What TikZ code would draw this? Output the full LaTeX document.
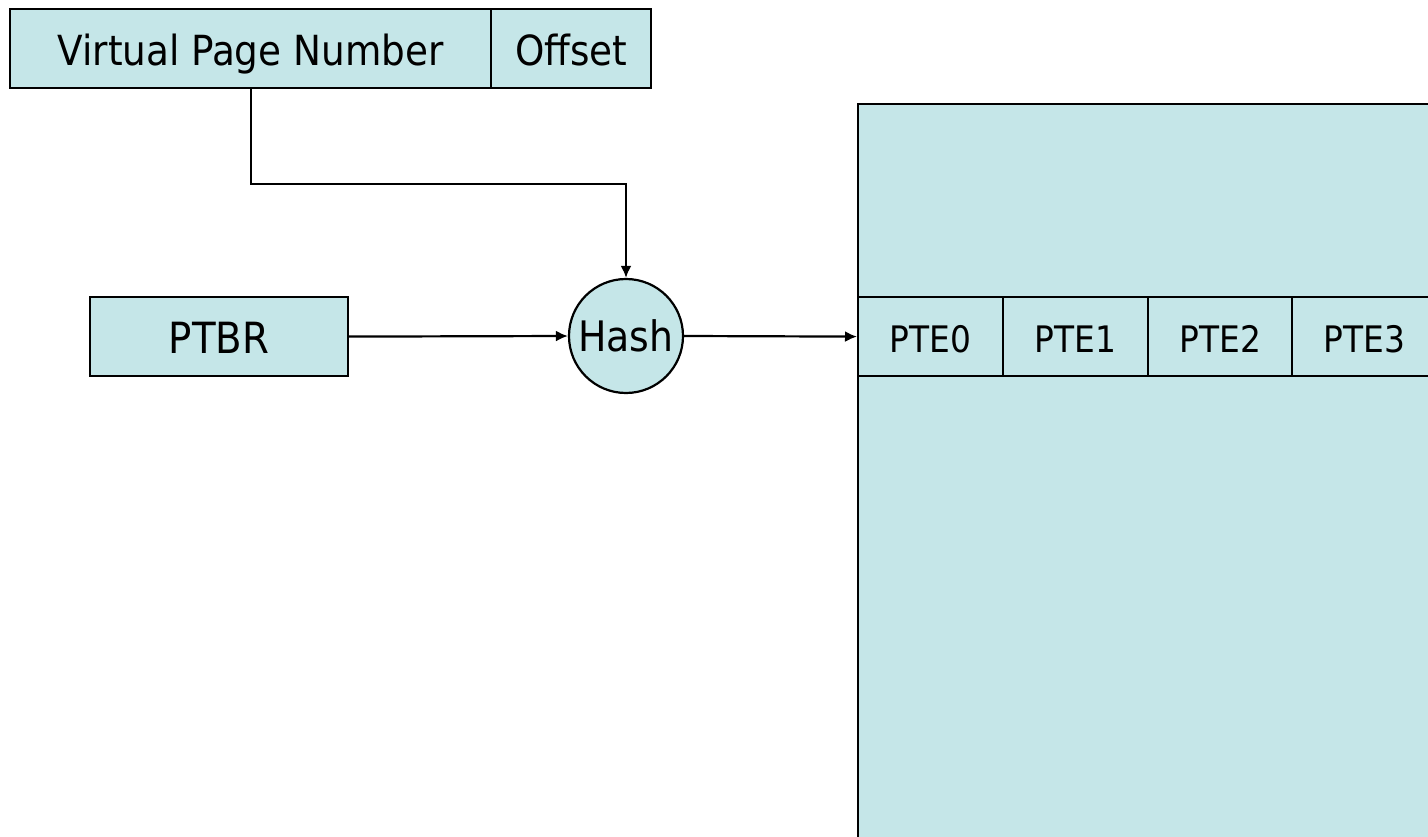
\documentclass[tikz,border=0pt]{standalone}
\usepackage{fontspec}
\setmainfont{DejaVu Sans Condensed}
\usetikzlibrary{arrows.meta}
\definecolor{cellfill}{RGB}{197,230,232}
\begin{document}
\begin{tikzpicture}[x=1pt,y=-1pt,
  box/.style={draw=black, fill=cellfill, line width=2.2pt, inner sep=0pt,
    minimum height=79pt, anchor=north west, text height=41pt, text depth=8pt,
    font=\fontsize{41.5}{48}\selectfont},
  ptecell/.style={box, minimum width=145pt, text height=38pt, text depth=7pt,
    font=\fontsize{36.5}{42}\selectfont},
  hashnode/.style={circle, draw=black, fill=cellfill, line width=2.2pt, inner sep=0pt,
    minimum size=114pt, font=\fontsize{42}{50}\selectfont},
  link/.style={line width=2.2pt, -{Latex[length=12pt,width=11pt]}}]
\useasboundingbox (0,0) rectangle (1428,837);
\clip (0,0) rectangle (1428,837);

% address fields
\node[box, minimum width=481pt] (vpn) at (9,8) {Virtual Page Number};
\node[box, minimum width=160pt] (off) at (490,8) {Offset};

% page table base register and hash unit
\node[box, minimum width=258pt, font=\fontsize{43}{50}\selectfont] (ptbr) at (89,296) {PTBR};
\node[hashnode] (hash) at (626,336) {Hash};

% hashed page table
\node[box, minimum width=640pt, minimum height=760pt] (table) at (857,103) {};
\node[ptecell] (pte0) at (857,296) {PTE0};
\node[ptecell] (pte1) at (1002,296) {PTE1};
\node[ptecell] (pte2) at (1147,296) {PTE2};
\node[ptecell] (pte3) at (1291,296) {PTE3};

% connectors
\draw[link] (vpn.south) -- ++(0,95) -| (hash.north);
\draw[link] (ptbr.east) -- (hash.west);
\draw[link] (hash.east) -- (pte0.west);
\end{tikzpicture}
\end{document}
